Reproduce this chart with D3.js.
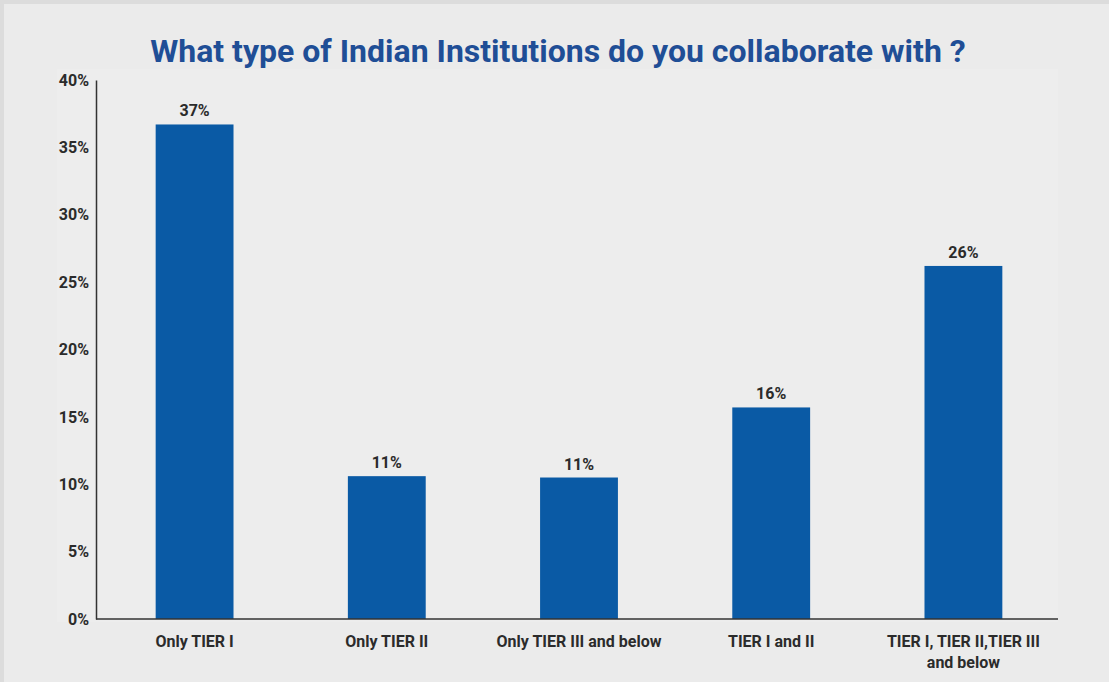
<!DOCTYPE html>
<html>
<head>
<meta charset="utf-8">
<script src="https://cdn.jsdelivr.net/npm/d3@7"></script>
<style>
  html, body { margin: 0; padding: 0; background: #ebebeb; }
  svg { display: block; }
</style>
</head>
<body>
<div id="chart"></div>
<script>
const width = 1109;
const height = 682;

// chart data
const categories = ["Only TIER I", "Only TIER II", "Only TIER III and below", "TIER I and II", "TIER I, TIER II,TIER III\nand below"];
const values = [36.7, 10.6, 10.5, 15.7, 26.2];
const valueLabels = ["37%", "11%", "11%", "16%", "26%"];
const yTicks = [0, 5, 10, 15, 20, 25, 30, 35, 40];

const margin = { top: 80, right: 51, bottom: 63, left: 96 };

const svg = d3.select("#chart").append("svg")
    .attr("width", width)
    .attr("height", height)
    .attr("viewBox", [0, 0, width, height])
    .style("font-family", "Roboto, 'Open Sans', sans-serif");

// background + light frame
svg.append("rect").attr("width", width).attr("height", height).attr("fill", "#ebebeb");
svg.append("rect").attr("width", width).attr("height", 4).attr("fill", "#dcdcdc");
svg.append("rect").attr("width", 4).attr("height", height).attr("fill", "#dcdcdc");

// faint plot area
svg.append("rect")
    .attr("x", 57).attr("y", 69)
    .attr("width", 1001).attr("height", 553)
    .attr("fill", "#ededed");

const x = d3.scaleBand()
    .domain(categories)
    .range([margin.left + 2, width - margin.right + 2])
    .paddingInner(0.595)
    .paddingOuter(0.3);

const y = d3.scaleLinear()
    .domain([0, 40])
    .range([height - margin.bottom, margin.top]);

// title
svg.append("text")
    .attr("x", 558)
    .attr("y", 62)
    .attr("text-anchor", "middle")
    .attr("fill", "#1f4e96")
    .style("font-size", "32px")
    .style("font-weight", "bold")
    .text("What type of Indian Institutions do you collaborate with ?");

// bars
svg.append("g").selectAll("rect")
    .data(values)
    .enter().append("rect")
    .attr("x", (d, i) => x(categories[i]))
    .attr("y", d => y(d))
    .attr("width", x.bandwidth())
    .attr("height", d => y(0) - y(d))
    .attr("fill", "#0a5aa5");

// value labels
svg.append("g").selectAll("text")
    .data(values)
    .enter().append("text")
    .attr("x", (d, i) => x(categories[i]) + x.bandwidth() / 2)
    .attr("y", d => y(d) - 8)
    .attr("text-anchor", "middle")
    .attr("fill", "#2b2b2b")
    .style("font-size", "16px")
    .style("font-weight", "bold")
    .text((d, i) => valueLabels[i]);

// y axis
const yAxis = svg.append("g")
    .attr("transform", `translate(${margin.left},0)`)
    .call(d3.axisLeft(y).tickValues(yTicks).tickSize(0).tickPadding(7).tickFormat(d => d + "%"));
yAxis.select(".domain").attr("stroke", "#333").attr("stroke-width", 1.5);
yAxis.selectAll("text")
    .attr("fill", "#2b2b2b")
    .style("font-size", "16px")
    .style("font-weight", "bold")
    .style("font-family", "Roboto, sans-serif");

// x axis
const xAxis = svg.append("g")
    .attr("transform", `translate(0,${y(0)})`)
    .call(d3.axisBottom(x).tickSize(0).tickFormat(""));
xAxis.select(".domain").attr("stroke", "#333").attr("stroke-width", 1.5)
    .attr("d", `M${margin.left},0H${width - margin.right}`);

// category labels (with line breaks)
const catLabels = svg.append("g").selectAll("text")
    .data(categories)
    .enter().append("text")
    .attr("x", d => x(d) + x.bandwidth() / 2)
    .attr("y", y(0) + 28)
    .attr("text-anchor", "middle")
    .attr("fill", "#2b2b2b")
    .style("font-size", "16px")
    .style("font-weight", "bold");

catLabels.each(function(d) {
    const lines = d.split("\n");
    const t = d3.select(this);
    lines.forEach((line, i) => {
        t.append("tspan")
            .attr("x", t.attr("x"))
            .attr("dy", i === 0 ? 0 : 21)
            .text(line);
    });
});
</script>
</body>
</html>
